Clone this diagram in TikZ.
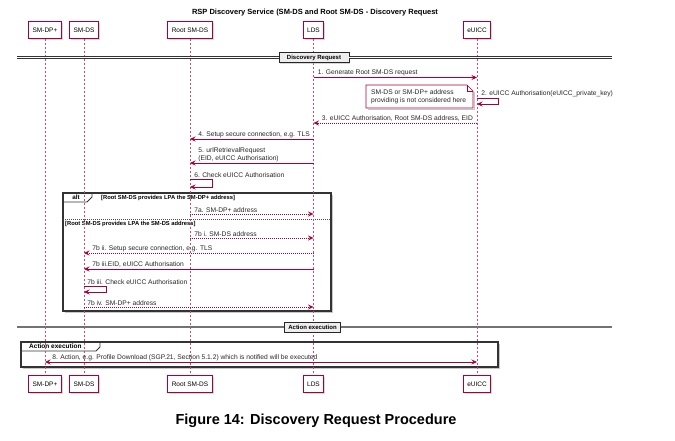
\documentclass[tikz,border=0pt]{standalone}
\usepackage{fontspec}
\setmainfont{Liberation Sans}
\usetikzlibrary{arrows.meta,positioning,shadows}

\definecolor{plantred}{RGB}{168,0,54}
\definecolor{lifered}{RGB}{205,70,110}
\definecolor{sepgray}{RGB}{238,238,238}

\tikzset{
  actor/.style={draw=plantred, fill=white, line width=0.8pt, inner xsep=4pt, minimum height=17pt,
    font=\fontsize{6.5}{7}\selectfont,
    drop shadow={shadow xshift=1.5pt, shadow yshift=-1.5pt, fill=black!30}},
  life/.style={draw=lifered, line width=0.5pt, dash pattern=on 2pt off 2pt},
  msg/.style={draw=plantred, line width=0.6pt, ->},
  reply/.style={msg, dash pattern=on 1pt off 1pt},
  lbl/.style={font=\fontsize{6.7}{7.6}\selectfont, text=black!85, inner sep=1pt},
  altframe/.style={draw=black!80, line width=1.1pt},
  frameshadow/.style={draw=black!22, line width=1.5pt},
  cond/.style={font=\bfseries\fontsize{5.8}{6.5}\selectfont, inner sep=1pt},
  sepbox/.style={draw=black!85, fill=sepgray, line width=0.9pt, inner xsep=3.5pt, inner ysep=0pt,
    minimum height=10pt, font=\bfseries\fontsize{6}{7}\selectfont,
    drop shadow={shadow xshift=1.2pt, shadow yshift=-1.2pt, fill=black!30}}
}

\begin{document}
\begin{tikzpicture}[x=1pt, y=-1pt, >={Stealth[length=5.5pt,width=5pt,inset=2pt]}]
\useasboundingbox (0,0) rectangle (675,440);

\node[font=\bfseries\fontsize{7.5}{9}\selectfont] (title) at (315,13) {RSP Discovery Service (SM-DS and Root SM-DS - Discovery Request};

% participants
\node[actor] (smdp) at (45,30) {SM-DP+};
\node[actor] (smds) at (84,30) {SM-DS};
\node[actor] (root) at (190,30) {Root SM-DS};
\node[actor] (lds) at (313.5,30) {LDS};
\node[actor] (euicc) at (477,30) {eUICC};

\node[actor, below=336pt of smdp] (smdpB) {SM-DP+};
\node[actor, below=336pt of smds] (smdsB) {SM-DS};
\node[actor, below=336pt of root] (rootB) {Root SM-DS};
\node[actor, below=336pt of lds] (ldsB) {LDS};
\node[actor, below=336pt of euicc] (euiccB) {eUICC};

% alt group
\draw[frameshadow] (65,312.5) -- (332.5,312.5) -- (332.5,195);
\draw[altframe] (63,193) rectangle (331,311);
\draw[altframe, line width=0.8pt] (63,202) -- (87,202) -- (92,197) -- (92,193);
\node[cond, font=\bfseries\fontsize{6.3}{7}\selectfont] (alttag) at (76,197.5) {alt};
\node[cond, anchor=west] (case1) at (100,197.5) {[Root SM-DS provides LPA the SM-DP+ address]};
\draw[black!70, dash pattern=on 1pt off 1pt] (63,219) -- (331,219);
\node[cond, anchor=west] (case2) at (64,224) {[Root SM-DS provides LPA the SM-DS address]};

% action group
\draw[frameshadow] (23,368.5) -- (499.5,368.5) -- (499.5,344);
\draw[altframe] (21,342) rectangle (498,367);
\draw[altframe, line width=0.8pt] (21,351) -- (96,351) -- (100,347) -- (100,342);
\node[cond, font=\bfseries\fontsize{6.5}{7}\selectfont, anchor=west] (grp) at (28,346.5) {Action execution};

% lifelines
\draw[life] (smdp) -- (smdpB);
\draw[life] (smds) -- (smdsB);
\draw[life] (root) -- (rootB);
\draw[life] (lds) -- (ldsB);
\draw[life] (euicc) -- (euiccB);

% separators
\coordinate (sepAl) at (17,57.5);
\coordinate (sepAr) at (612,57.5);
\node[sepbox, minimum width=70pt] (sepA) at (314,57.5) {Discovery Request};
\draw[black!80, line width=2.8pt] (sepAl) -- (sepA);
\draw[black!80, line width=2.8pt] (sepA) -- (sepAr);
\draw[white, line width=1.1pt] (sepAl) -- (sepA);
\draw[white, line width=1.1pt] (sepA) -- (sepAr);

\coordinate (sepBl) at (17,327);
\coordinate (sepBr) at (612,327);
\node[sepbox] (sepB) at (312.5,327) {Action execution};
\draw[black!55, line width=2.2pt] (sepBl) -- (sepB);
\draw[black!55, line width=2.2pt] (sepB) -- (sepBr);

% note
\draw[frameshadow] (368,109.5) -- (474.5,109.5) -- (474.5,92);
\draw[draw=plantred, fill=white, line width=0.7pt] (366,85) -- (467,85) -- (473,91) -- (473,108) -- (366,108) -- cycle;
\draw[draw=plantred, line width=0.7pt] (467,85) -- (467,91) -- (473,91);
\node[lbl, align=left, anchor=west] (note) at (370,96.5) {SM-DS or SM-DP+ address\\providing is not considered here};

% messages
\coordinate (m1a) at (313.5,77.5);
\coordinate (m1b) at (477,77.5);
\draw[msg] (m1a) node[lbl, above right, xshift=3pt] {1. Generate Root SM-DS request} -- (m1b);

\coordinate (m2a) at (477,98);
\coordinate (m2b) at (477,104);
\draw[msg] (m2a) node[lbl, above right, xshift=3pt] {2. eUICC Authorisation(eUICC\_private\_key)} -- ++(21,0) -- ++(0,6) -- (m2b);

\coordinate (m3a) at (477,123);
\coordinate (m3b) at (313.5,123);
\draw[reply] (m3a) -- (m3b) node[lbl, above right, xshift=7pt] {3. eUICC Authorisation, Root SM-DS address, EID};

\coordinate (m4a) at (313.5,139);
\coordinate (m4b) at (190,139);
\draw[msg] (m4a) -- (m4b) node[lbl, above right, xshift=7pt] {4. Setup secure connection, e.g. TLS};

\coordinate (m5a) at (313.5,163);
\coordinate (m5b) at (190,163);
\draw[msg] (m5a) -- (m5b) node[lbl, above right, xshift=7pt, align=left] {5. urlRetrievalRequest\\(EID, eUICC Authorisation)};

\coordinate (m6a) at (190,179);
\coordinate (m6b) at (190,187);
\draw[msg] (m6a) node[lbl, above right, xshift=3pt] {6. Check eUICC Authorisation} -- ++(22,0) -- ++(0,8) -- (m6b);

\coordinate (m7a) at (190,214);
\coordinate (m7b) at (313.5,214);
\draw[reply] (m7a) node[lbl, above right, xshift=3pt] {7a. SM-DP+ address} -- (m7b);

\coordinate (m7ia) at (190,238);
\coordinate (m7ib) at (313.5,238);
\draw[reply] (m7ia) node[lbl, above right, xshift=3pt] {7b i. SM-DS address} -- (m7ib);

\coordinate (m7iia) at (313.5,253);
\coordinate (m7iib) at (84,253);
\draw[reply] (m7iia) -- (m7iib) node[lbl, above right, xshift=7pt] {7b ii. Setup secure connection, e.g. TLS};

\coordinate (m7iiia) at (313.5,269);
\coordinate (m7iiib) at (84,269);
\draw[msg] (m7iiia) -- (m7iiib) node[lbl, above right, xshift=7pt] {7b iii.EID, eUICC Authorisation};

\coordinate (m7ca) at (84,286);
\coordinate (m7cb) at (84,292);
\draw[msg] (m7ca) node[lbl, above right, xshift=2pt] {7b iii. Check eUICC Authorisation} -- ++(22,0) -- ++(0,6) -- (m7cb);

\coordinate (m7iva) at (84,307);
\coordinate (m7ivb) at (313.5,307);
\draw[reply] (m7iva) node[lbl, above right, xshift=2pt] {7b iv. SM-DP+ address} -- (m7ivb);

\coordinate (m8a) at (45,362);
\coordinate (m8b) at (477,362);
\draw[msg, <->] (m8a) node[lbl, above right, xshift=6pt] {8. Action, e.g. Profile Download (SGP.21, Section 5.1.2) which is notified will be executed} -- (m8b);

\node[font=\bfseries\fontsize{14.5}{17}\selectfont] (caption) at (316,421) {Figure 14: Discovery Request Procedure};
\end{tikzpicture}
\end{document}
